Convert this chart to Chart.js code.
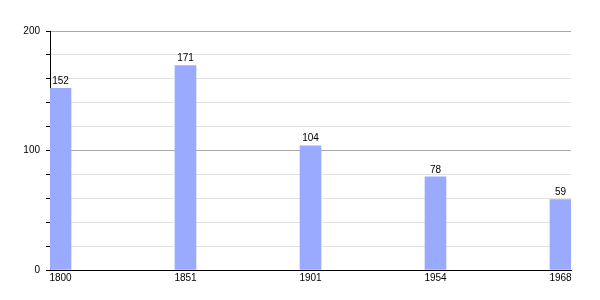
<!DOCTYPE html>
<html>
<head>
<meta charset="utf-8">
<script src="https://cdn.jsdelivr.net/npm/chart.js@4"></script>
<style>
  html, body { margin: 0; padding: 0; background: #fff; }
  #wrap { width: 600px; height: 300px; }
</style>
</head>
<body>
<div id="wrap"><canvas id="popChart"></canvas></div>
<script>
const years = ['1800', '1851', '1901', '1954', '1968'];
const population = [152, 171, 104, 78, 59];
const yTickLabels = [0, 100, 200];

// draws the number above each bar
const valueLabels = {
    id: 'valueLabels',
    afterDatasetsDraw(chart) {
        const ctx = chart.ctx;
        const meta = chart.getDatasetMeta(0);
        ctx.save();
        ctx.font = '10px "Liberation Sans", Arial, sans-serif';
        ctx.fillStyle = '#000';
        ctx.textAlign = 'center';
        ctx.textBaseline = 'bottom';
        meta.data.forEach(function (bar, i) {
            ctx.fillText(population[i], bar.x, bar.y - 2);
        });
        ctx.restore();
    }
};

Chart.defaults.font.family = '"Liberation Sans", Arial, sans-serif';
Chart.defaults.font.size = 10;
Chart.defaults.color = '#000';

new Chart(document.getElementById('popChart'), {
    type: 'bar',
    data: {
        datasets: [{
            data: population.map((v, i) => ({ x: i, y: v })),
            backgroundColor: '#9aabff',
            barThickness: 21
        }]
    },
    options: {
        responsive: true,
        maintainAspectRatio: false,
        animation: false,
        layout: { padding: { top: 31, right: 29, left: 0, bottom: 0 } },
        plugins: {
            legend: { display: false },
            tooltip: { enabled: false }
        },
        scales: {
            x: {
                type: 'linear',
                offset: false,
                min: -0.084,
                max: 4.084,
                afterBuildTicks: function (s) {
                    s.ticks = years.map((_, i) => ({ value: i }));
                },
                afterFit: function (s) { s.height = 30; },
                grid: { display: false, drawTicks: false },
                border: { color: '#000', width: 1 },
                ticks: {
                    padding: 2,
                    maxRotation: 0,
                    autoSkip: false,
                    callback: v => years[v]
                }
            },
            y: {
                min: 0,
                max: 200,
                afterFit: function (s) { s.width = 50; },
                border: { color: '#000', width: 1 },
                grid: {
                    color: c => (c.tick && c.tick.value % 100 === 0) ? '#aaaaaa' : '#e2e2e2',
                    tickColor: '#000',
                    tickLength: 4
                },
                ticks: {
                    stepSize: 20,
                    padding: 6,
                    autoSkip: false,
                    callback: v => yTickLabels.includes(v) ? v : ''
                }
            }
        }
    },
    plugins: [valueLabels]
});
</script>
</body>
</html>
